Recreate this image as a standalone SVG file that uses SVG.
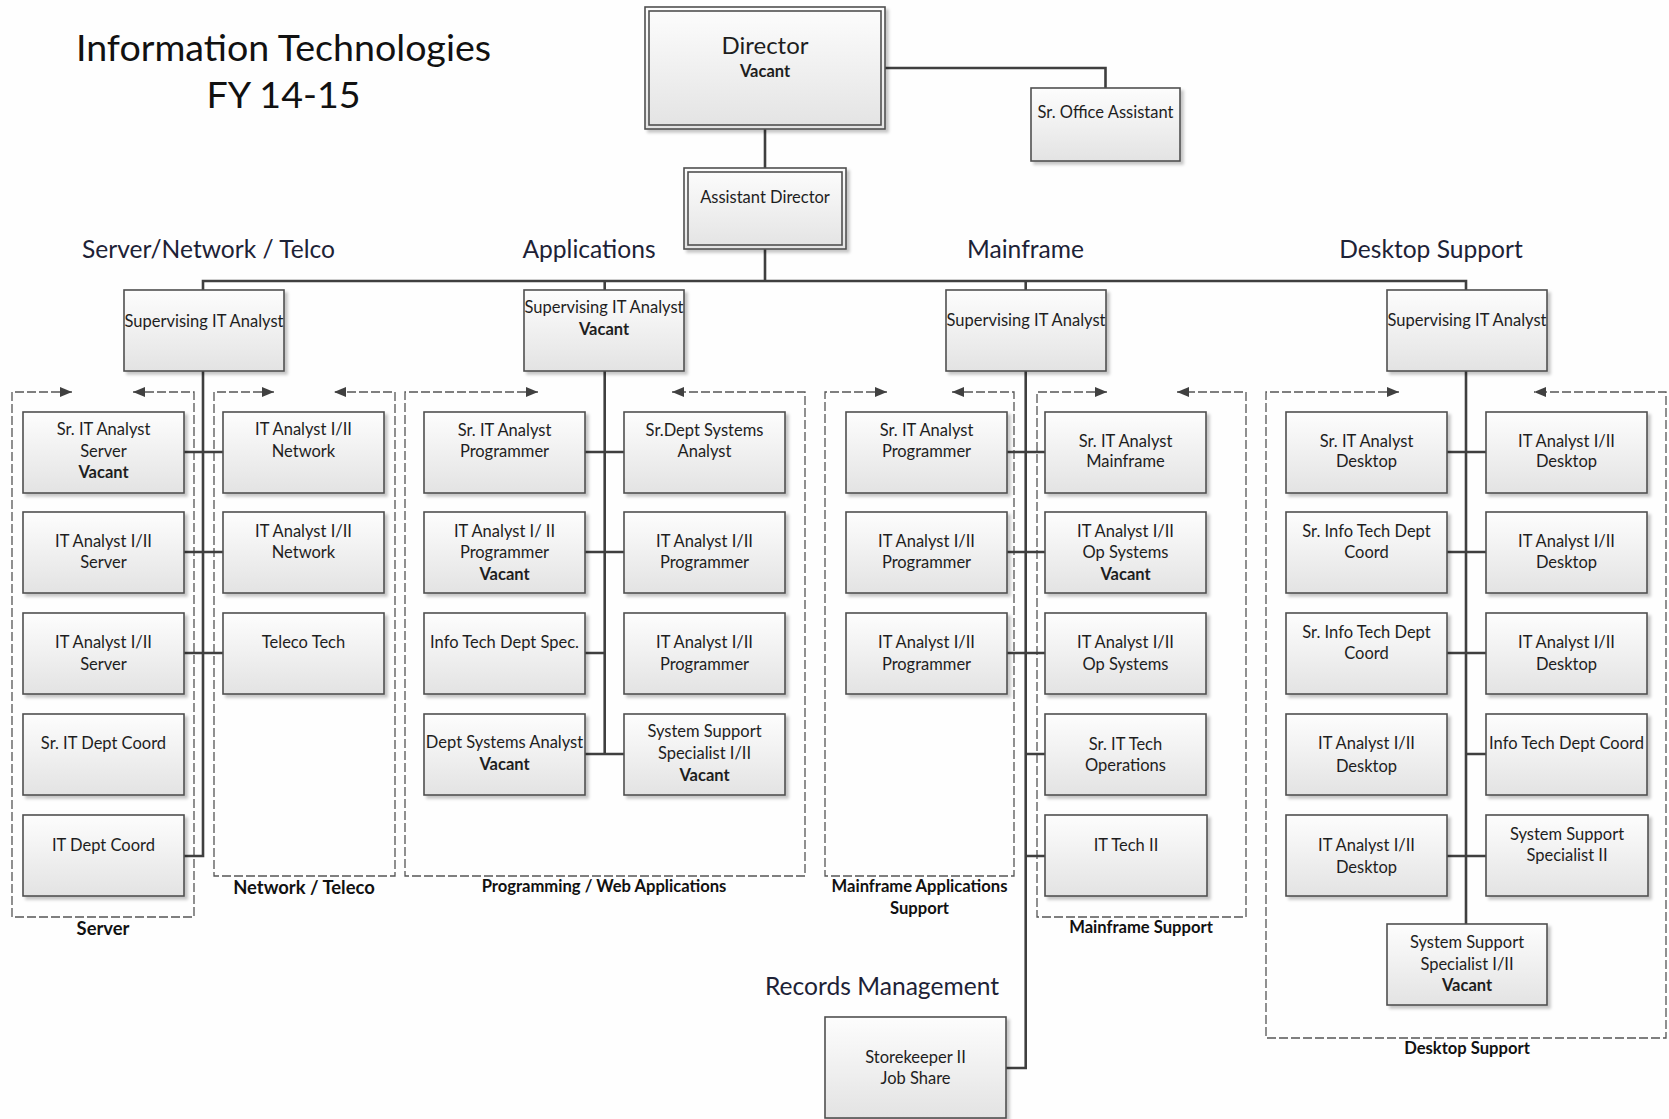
<svg xmlns="http://www.w3.org/2000/svg" width="1669" height="1119" viewBox="0 0 1669 1119">
<defs>
<linearGradient id="g" x1="0" y1="0" x2="0" y2="1"><stop offset="0" stop-color="#fdfdfd"/><stop offset="1" stop-color="#e3e3e3"/></linearGradient>
<filter id="sh" x="-10%" y="-10%" width="130%" height="130%"><feDropShadow dx="3" dy="3" stdDeviation="1.5" flood-color="#000" flood-opacity="0.22"/></filter>
<marker id="ar" viewBox="0 0 12 10" refX="12" refY="5" markerWidth="12" markerHeight="10" markerUnits="userSpaceOnUse" orient="auto-start-reverse"><path d="M0,0 L12,5 L0,10 z" fill="#404040"/></marker>
</defs>
<style>
.box{fill:url(#g);stroke:#505050;stroke-width:1.6;filter:url(#sh)}
.in{fill:none;stroke:#505050;stroke-width:1.6}
.t{font-family:Lato,"Open Sans","Liberation Sans",sans-serif;font-size:16.5px;fill:#1e1e1e;text-anchor:middle}
.tb{font-weight:bold}
.hd{font-family:Lato,"Open Sans","Liberation Sans",sans-serif;font-size:24.6px;fill:#1d2236;text-anchor:middle}
.ttl{font-size:37.6px;fill:#111}
.lb{font-family:Lato,"Open Sans","Liberation Sans",sans-serif;font-weight:bold;font-size:16.6px;fill:#111;text-anchor:middle}
.lb2{font-size:18.4px}
.c{fill:none;stroke:#3f3f3f;stroke-width:2.6}
.d{fill:none;stroke:#555;stroke-width:1.3;stroke-dasharray:9 3;marker-start:url(#ar);marker-end:url(#ar)}
</style>
<rect width="1669" height="1119" fill="#fefefe"/>

<g id="title">
<text class="hd ttl" x="283.5" y="61">Information Technologies</text>
<text class="hd ttl" x="283.5" y="108">FY 14-15</text>
</g>
<g id="headers">
<text class="hd" x="208.5" y="258">Server/Network / Telco</text>
<text class="hd" x="589" y="258">Applications</text>
<text class="hd" x="1025.5" y="258">Mainframe</text>
<text class="hd" x="1431" y="258">Desktop Support</text>
<text class="hd" x="882" y="995">Records Management</text>
</g>

<g id="containers">
<path class="d" d="M72,392 H12 V917 H194 V392 H133"/>
<path class="d" d="M274,392 H214 V876 H395 V392 H334"/>
<path class="d" d="M538,392 H405 V876 H805 V392 H672"/>
<path class="d" d="M887,392 H825 V876 H1014 V392 H952"/>
<path class="d" d="M1107,392 H1037 V917 H1246 V392 H1177"/>
<path class="d" d="M1399,392 H1266 V1038 H1666 V392 H1534"/>
<text class="lb lb2" x="103" y="935">Server</text>
<text class="lb lb2" x="304" y="894">Network / Teleco</text>
<text class="lb" x="604" y="892">Programming / Web Applications</text>
<text class="lb" x="919.5" y="892">Mainframe Applications</text>
<text class="lb" x="919.5" y="913.5">Support</text>
<text class="lb" x="1141" y="933">Mainframe Support</text>
<text class="lb" x="1467" y="1053.5">Desktop Support</text>
</g>

<g id="connectors">
<path class="c" d="M885,68 H1105.5 V88"/>
<path class="c" d="M765,129 V168"/>
<path class="c" d="M765,249 V281"/>
<path class="c" d="M203,290 V281 H1466 V290"/>
<path class="c" d="M604.7,281 V290 M1025.7,281 V290"/>
<path class="c" d="M203,371 V856 H184 M184,452 H223 M184,552 H223 M184,653 H223"/>
<path class="c" d="M604.7,371 V754 M585,452 H624 M585,552 H624 M585,653 H604.7 M585,754 H624"/>
<path class="c" d="M1025.7,371 V1068 H1006 M1006,452 H1045 M1006,552 H1045 M1006,653 H1045 M1025.7,754 H1045 M1025.7,856 H1045"/>
<path class="c" d="M1466,371 V924 M1447,452 H1486 M1447,552 H1486 M1447,653 H1486 M1466,754 H1486 M1447,856 H1486"/>
</g>

<g id="director">
<rect class="box" x="645" y="7" width="240" height="122"/>
<rect class="in" x="649" y="11" width="232" height="114"/>
<text class="t" x="765" y="54" style="font-size:24px">Director</text>
<text class="t tb" x="765" y="77">Vacant</text>
</g>
<g id="office-assistant">
<rect class="box" x="1031" y="88" width="149" height="73"/>
<text class="t" x="1105.5" y="118">Sr. Office Assistant</text>
</g>
<g id="assistant-director">
<rect class="box" x="684" y="168" width="162" height="81"/>
<rect class="in" x="688" y="172" width="154" height="73"/>
<text class="t" x="765" y="203">Assistant Director</text>
</g>

<g id="sup-server">
<rect class="box" x="124" y="290" width="160" height="81"/>
<text class="t" x="204" y="327">Supervising IT Analyst</text>
</g>
<g id="sup-apps">
<rect class="box" x="524" y="290" width="160" height="81"/>
<text class="t" x="604" y="313">Supervising IT Analyst</text>
<text class="t tb" x="604" y="335">Vacant</text>
</g>
<g id="sup-mainframe">
<rect class="box" x="946" y="290" width="160" height="81"/>
<text class="t" x="1026" y="326">Supervising IT Analyst</text>
</g>
<g id="sup-desktop">
<rect class="box" x="1387" y="290" width="160" height="81"/>
<text class="t" x="1467" y="326">Supervising IT Analyst</text>
</g>

<g id="srv1"><rect class="box" x="23" y="412" width="161" height="81"/>
<text class="t" x="103.5" y="435">Sr. IT Analyst</text><text class="t" x="103.5" y="456.7">Server</text><text class="t tb" x="103.5" y="478.3">Vacant</text></g>
<g id="srv2"><rect class="box" x="23" y="512" width="161" height="81"/>
<text class="t" x="103.5" y="546.7">IT Analyst I/II</text><text class="t" x="103.5" y="568.3">Server</text></g>
<g id="srv3"><rect class="box" x="23" y="613" width="161" height="81"/>
<text class="t" x="103.5" y="648.3">IT Analyst I/II</text><text class="t" x="103.5" y="669.5">Server</text></g>
<g id="srv4"><rect class="box" x="23" y="714" width="161" height="81"/>
<text class="t" x="103.5" y="749">Sr. IT Dept Coord</text></g>
<g id="srv5"><rect class="box" x="23" y="815" width="161" height="81"/>
<text class="t" x="103.5" y="850.7">IT Dept Coord</text></g>

<g id="net1"><rect class="box" x="223" y="412" width="161" height="81"/>
<text class="t" x="303.5" y="435">IT Analyst I/II</text><text class="t" x="303.5" y="456.7">Network</text></g>
<g id="net2"><rect class="box" x="223" y="512" width="161" height="81"/>
<text class="t" x="303.5" y="536.7">IT Analyst I/II</text><text class="t" x="303.5" y="558.3">Network</text></g>
<g id="net3"><rect class="box" x="223" y="613" width="161" height="81"/>
<text class="t" x="303.5" y="648.3">Teleco Tech</text></g>

<g id="prl1"><rect class="box" x="424" y="412" width="161" height="81"/>
<text class="t" x="504.5" y="436">Sr. IT Analyst</text><text class="t" x="504.5" y="457">Programmer</text></g>
<g id="prl2"><rect class="box" x="424" y="512" width="161" height="81"/>
<text class="t" x="504.5" y="536.7">IT Analyst I/ II</text><text class="t" x="504.5" y="558.3">Programmer</text><text class="t tb" x="504.5" y="580">Vacant</text></g>
<g id="prl3"><rect class="box" x="424" y="613" width="161" height="81"/>
<text class="t" x="504.5" y="648.3">Info Tech Dept Spec.</text></g>
<g id="prl4"><rect class="box" x="424" y="714" width="161" height="81"/>
<text class="t" x="504.5" y="748.3">Dept Systems Analyst</text><text class="t tb" x="504.5" y="770">Vacant</text></g>

<g id="prr1"><rect class="box" x="624" y="412" width="161" height="81"/>
<text class="t" x="704.5" y="436">Sr.Dept Systems</text><text class="t" x="704.5" y="457">Analyst</text></g>
<g id="prr2"><rect class="box" x="624" y="512" width="161" height="81"/>
<text class="t" x="704.5" y="546.7">IT Analyst I/II</text><text class="t" x="704.5" y="568.3">Programmer</text></g>
<g id="prr3"><rect class="box" x="624" y="613" width="161" height="81"/>
<text class="t" x="704.5" y="648.3">IT Analyst I/II</text><text class="t" x="704.5" y="670">Programmer</text></g>
<g id="prr4"><rect class="box" x="624" y="714" width="161" height="81"/>
<text class="t" x="704.5" y="737">System Support</text><text class="t" x="704.5" y="759">Specialist I/II</text><text class="t tb" x="704.5" y="781">Vacant</text></g>

<g id="mfa1"><rect class="box" x="846" y="412" width="161" height="81"/>
<text class="t" x="926.5" y="436">Sr. IT Analyst</text><text class="t" x="926.5" y="457">Programmer</text></g>
<g id="mfa2"><rect class="box" x="846" y="512" width="161" height="81"/>
<text class="t" x="926.5" y="546.7">IT Analyst I/II</text><text class="t" x="926.5" y="568.3">Programmer</text></g>
<g id="mfa3"><rect class="box" x="846" y="613" width="161" height="81"/>
<text class="t" x="926.5" y="648.3">IT Analyst I/II</text><text class="t" x="926.5" y="670">Programmer</text></g>

<g id="mfs1"><rect class="box" x="1045" y="412" width="161" height="81"/>
<text class="t" x="1125.5" y="446.7">Sr. IT Analyst</text><text class="t" x="1125.5" y="467.3">Mainframe</text></g>
<g id="mfs2"><rect class="box" x="1045" y="512" width="161" height="81"/>
<text class="t" x="1125.5" y="536.7">IT Analyst I/II</text><text class="t" x="1125.5" y="558.3">Op Systems</text><text class="t tb" x="1125.5" y="580">Vacant</text></g>
<g id="mfs3"><rect class="box" x="1045" y="613" width="161" height="81"/>
<text class="t" x="1125.5" y="648.3">IT Analyst I/II</text><text class="t" x="1125.5" y="670">Op Systems</text></g>
<g id="mfs4"><rect class="box" x="1045" y="714" width="161" height="81"/>
<text class="t" x="1125.5" y="749.5">Sr. IT Tech</text><text class="t" x="1125.5" y="771">Operations</text></g>
<g id="mfs5"><rect class="box" x="1045" y="815" width="162" height="81"/>
<text class="t" x="1126" y="850.7">IT Tech II</text></g>

<g id="dl1"><rect class="box" x="1286" y="412" width="161" height="81"/>
<text class="t" x="1366.5" y="446.7">Sr. IT Analyst</text><text class="t" x="1366.5" y="467.3">Desktop</text></g>
<g id="dl2"><rect class="box" x="1286" y="512" width="161" height="81"/>
<text class="t" x="1366.5" y="536.7">Sr. Info Tech Dept</text><text class="t" x="1366.5" y="558.3">Coord</text></g>
<g id="dl3"><rect class="box" x="1286" y="613" width="161" height="81"/>
<text class="t" x="1366.5" y="638.3">Sr. Info Tech Dept</text><text class="t" x="1366.5" y="659.3">Coord</text></g>
<g id="dl4"><rect class="box" x="1286" y="714" width="161" height="81"/>
<text class="t" x="1366.5" y="749">IT Analyst I/II</text><text class="t" x="1366.5" y="771.7">Desktop</text></g>
<g id="dl5"><rect class="box" x="1286" y="815" width="161" height="81"/>
<text class="t" x="1366.5" y="850.7">IT Analyst I/II</text><text class="t" x="1366.5" y="872.7">Desktop</text></g>

<g id="dr1"><rect class="box" x="1486" y="412" width="161" height="81"/>
<text class="t" x="1566.5" y="446.7">IT Analyst I/II</text><text class="t" x="1566.5" y="467.3">Desktop</text></g>
<g id="dr2"><rect class="box" x="1486" y="512" width="161" height="81"/>
<text class="t" x="1566.5" y="546.7">IT Analyst I/II</text><text class="t" x="1566.5" y="568.3">Desktop</text></g>
<g id="dr3"><rect class="box" x="1486" y="613" width="161" height="81"/>
<text class="t" x="1566.5" y="648.3">IT Analyst I/II</text><text class="t" x="1566.5" y="670">Desktop</text></g>
<g id="dr4"><rect class="box" x="1486" y="714" width="161" height="81"/>
<text class="t" x="1566.5" y="749.3">Info Tech Dept Coord</text></g>
<g id="dr5"><rect class="box" x="1486" y="815" width="162" height="81"/>
<text class="t" x="1567" y="840">System Support</text><text class="t" x="1567" y="860.7">Specialist II</text></g>
<g id="d6"><rect class="box" x="1387" y="924" width="160" height="81"/>
<text class="t" x="1467" y="948.3">System Support</text><text class="t" x="1467" y="970">Specialist I/II</text><text class="t tb" x="1467" y="990.7">Vacant</text></g>

<g id="storekeeper"><rect class="box" x="825" y="1017" width="181" height="101"/>
<text class="t" x="915.5" y="1062.7">Storekeeper II</text><text class="t" x="915.5" y="1084">Job Share</text></g>
</svg>
